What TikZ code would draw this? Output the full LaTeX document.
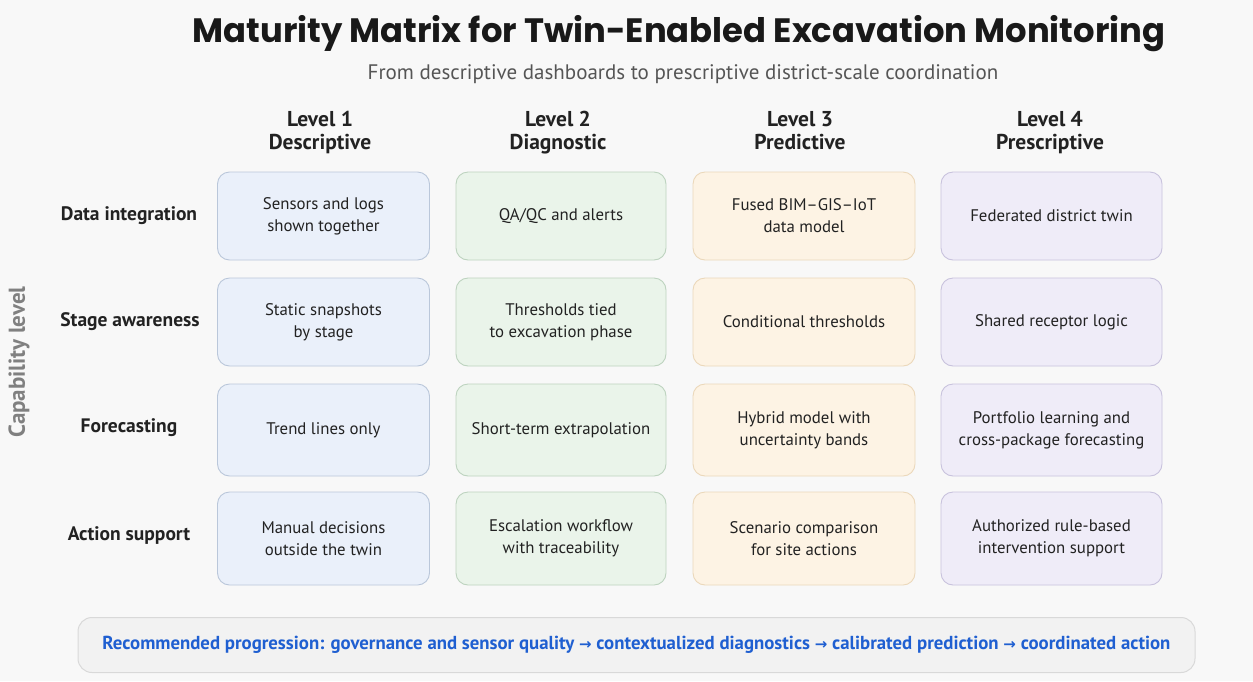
\documentclass[tikz,border=0pt]{standalone}
\usepackage{fontspec}
\setmainfont{PT Sans}
\newfontfamily\titlefont{Poppins}
\newfontfamily\arrowfont{DejaVu Sans}
\usetikzlibrary{positioning}
\definecolor{bgc}{HTML}{F8F8F8}
\definecolor{bfill}{HTML}{EAF0FA}\definecolor{bline}{HTML}{BAC7DA}
\definecolor{gfill}{HTML}{EAF4EA}\definecolor{gline}{HTML}{BDD3BF}
\definecolor{ofill}{HTML}{FDF3E4}\definecolor{oline}{HTML}{EBD8BA}
\definecolor{pfill}{HTML}{EFECF8}\definecolor{pline}{HTML}{C8C2DD}
\definecolor{txt}{HTML}{222222}
\definecolor{subc}{HTML}{555555}
\definecolor{bluet}{HTML}{1F5FD1}
\newcommand{\arr}{{\arrowfont\fontsize{15}{16}\selectfont →}}
\tikzset{
 card/.style={draw, line width=0.9pt, rounded corners=12pt, minimum width=#1, minimum height=88pt, align=center, font=\fontsize{16.8}{22}\selectfont, text=txt},
 bluecard/.style={card=212pt, fill=bfill, draw=bline},
 greencard/.style={card=210pt, fill=gfill, draw=gline},
 orangecard/.style={card=222pt, fill=ofill, draw=oline},
 purplecard/.style={card=221pt, fill=pfill, draw=pline},
 rowlab/.style={font=\fontsize{19.5}{22}\selectfont\bfseries, text=txt},
 collab/.style={font=\fontsize{21.5}{23}\selectfont\bfseries, text=txt, align=center, anchor=north, inner sep=0pt},
}
\begin{document}
\begin{tikzpicture}[x=1pt,y=-1pt]
\fill[bgc] (0,0) rectangle (1253,681);
\useasboundingbox (0,0) rectangle (1253,681);
\node[font=\titlefont\fontsize{33.8}{38}\selectfont\bfseries, text=black!90] (title) at (679,34) {Maturity Matrix for Twin-Enabled Excavation Monitoring};
\node[font=\fontsize{21}{24}\selectfont, text=subc] (sub) at (683,74) {From descriptive dashboards to prescriptive district-scale coordination};
% column headers
\node[collab] (h1) at (320,111) {Level 1\\Descriptive};
\node[collab] (h2) at (558,111) {Level 2\\Diagnostic};
\node[collab] (h3) at (800,111) {Level 3\\Predictive};
\node[collab] (h4) at (1050,111) {Level 4\\Prescriptive};
% row labels
\node[rowlab] (r1) at (129,216) {Data integration};
\node[rowlab] (r2) at (130,322) {Stage awareness};
\node[rowlab] (r3) at (129,428) {Forecasting};
\node[rowlab] (r4) at (129,536) {Action support};
\node[rotate=90, font=\fontsize{23}{26}\selectfont\bfseries, text=black!50] (cap) at (19,362) {Capability level};
% row 1
\node[bluecard] (c11) at (323.5,216) {Sensors and logs\\shown together};
\node[greencard] (c12) at (561,216) {QA/QC and alerts};
\node[orangecard] (c13) at (804,216) {Fused BIM--GIS--IoT\\data model};
\node[purplecard] (c14) at (1051.5,216) {Federated district twin};
% row 2
\node[bluecard] (c21) at (323.5,322) {Static snapshots\\by stage};
\node[greencard] (c22) at (561,322) {Thresholds tied\\to excavation phase};
\node[orangecard] (c23) at (804,322) {Conditional thresholds};
\node[purplecard] (c24) at (1051.5,322) {Shared receptor logic};
% row 3
\node[bluecard, minimum height=92pt] (c31) at (323.5,430) {Trend lines only};
\node[greencard, minimum height=92pt] (c32) at (561,430) {Short-term extrapolation};
\node[orangecard, minimum height=92pt] (c33) at (804,430) {Hybrid model with\\uncertainty bands};
\node[purplecard, minimum height=92pt] (c34) at (1051.5,430) {Portfolio learning and\\cross-package forecasting};
% row 4
\node[bluecard, minimum height=93pt] (c41) at (323.5,538.5) {Manual decisions\\outside the twin};
\node[greencard, minimum height=93pt] (c42) at (561,538.5) {Escalation workflow\\with traceability};
\node[orangecard, minimum height=93pt] (c43) at (804,538.5) {Scenario comparison\\for site actions};
\node[purplecard, minimum height=93pt] (c44) at (1051.5,538.5) {Authorized rule-based\\intervention support};
% bottom bar
\node[draw=black!15, line width=1pt, fill=black!5, rounded corners=14pt, minimum width=1117pt, minimum height=55pt, text=bluet, font=\fontsize{18.8}{22}\selectfont\bfseries] (bar) at (636.5,645) {Recommended progression: governance and sensor quality \arr{} contextualized diagnostics \arr{} calibrated prediction \arr{} coordinated action};
\end{tikzpicture}
\end{document}
